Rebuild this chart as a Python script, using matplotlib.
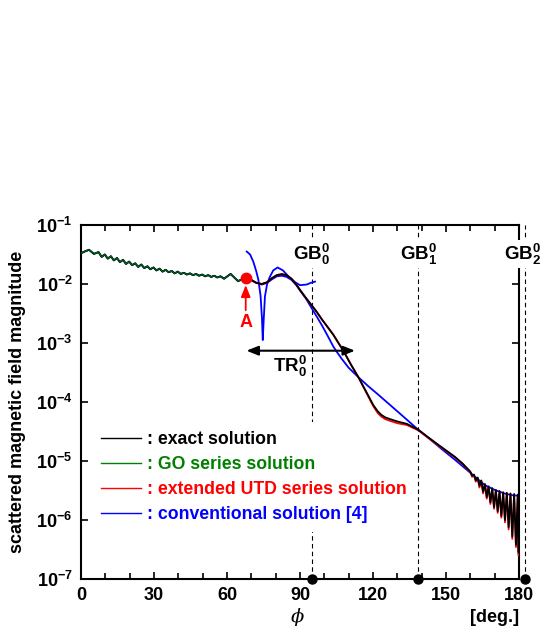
import matplotlib
matplotlib.use('Agg')
import matplotlib.pyplot as plt
import numpy as np
from matplotlib.ticker import FixedLocator, FuncFormatter, NullLocator
from matplotlib.lines import Line2D

plt.rcParams['font.family'] = ['Liberation Sans', 'DejaVu Sans']
plt.rcParams['font.weight'] = 'bold'
plt.rcParams['mathtext.fontset'] = 'custom'
plt.rcParams['mathtext.rm'] = 'Liberation Sans:bold'
plt.rcParams['mathtext.bf'] = 'Liberation Sans:bold'
plt.rcParams['mathtext.it'] = 'Liberation Sans:bold:italic'

# lit region (0 - point A), shared by exact / GO / conventional, log10 of magnitude
phi_front = [0.0, 1.5, 3.3, 5.3, 7.2, 8.5, 9.8, 11.0, 12.3, 13.5, 14.8, 16.0, 17.3, 18.5, 19.8,
             21.0, 22.3, 23.5, 24.8, 26.0, 27.3, 28.5, 29.8, 31.0, 32.3, 33.5, 34.8, 36.0, 37.3,
             38.5, 39.8, 41.0, 42.3, 43.5, 44.8, 46.0, 47.3, 48.5, 49.8, 51.0, 52.3, 53.5, 54.8,
             56.0, 57.3, 58.8, 61.5, 64.5, 66.5, 67.7]
log_front = [-1.48, -1.45, -1.42, -1.49, -1.46, -1.54, -1.50, -1.57, -1.53, -1.60, -1.56, -1.63,
             -1.59, -1.66, -1.62, -1.68, -1.65, -1.71, -1.67, -1.73, -1.70, -1.75, -1.72, -1.77,
             -1.74, -1.79, -1.76, -1.80, -1.78, -1.82, -1.79, -1.83, -1.81, -1.84, -1.82, -1.85,
             -1.83, -1.86, -1.84, -1.87, -1.85, -1.88, -1.86, -1.89, -1.87, -1.91, -1.83, -1.95,
             -1.92, -1.89]

# exact solution beyond A
phi_back = [70.0, 72.0, 74.3, 76.5, 78.5, 80.5, 82.5, 84.5, 86.5, 88.5, 90.0, 92.5, 94.8, 97.0,
            99.0, 101.0, 103.7, 105.5, 107.8, 111.0, 114.0, 117.0, 120.1, 122.0, 123.5, 125.0,
            127.0, 130.0, 133.9, 138.6, 143.4, 148.0, 153.7, 157.0,
            160.0, 160.75, 161.5, 162.25, 163.0, 163.75, 164.5, 165.25, 166.0, 166.75, 167.5,
            168.25, 169.0, 169.75, 170.5, 171.25, 172.0, 172.75, 173.5, 174.25, 175.0, 175.75,
            176.5, 177.25, 178.0, 178.75, 179.5, 179.85, 180.0]
log_exact = [-1.93, -1.98, -2.00, -1.97, -1.90, -1.85, -1.835, -1.85, -1.91, -2.01, -2.10, -2.24,
             -2.36, -2.48, -2.60, -2.71, -2.86, -2.98, -3.13, -3.37, -3.58, -3.81, -4.05, -4.16,
             -4.22, -4.26, -4.29, -4.33, -4.37, -4.47, -4.62, -4.76, -4.93, -5.05,
             -5.18, -5.25, -5.23, -5.33, -5.28, -5.42, -5.33, -5.52, -5.39, -5.61, -5.43,
             -5.70, -5.46, -5.78, -5.49, -5.85, -5.51, -5.93, -5.53, -6.00, -5.54, -6.12,
             -5.55, -6.28, -5.56, -6.42, -5.57, -6.55, -5.58]
log_utd = [-1.93, -1.98, -2.00, -1.97, -1.90, -1.85, -1.83, -1.85, -1.91, -2.01, -2.10, -2.24,
           -2.36, -2.48, -2.60, -2.71, -2.86, -2.98, -3.13, -3.37, -3.58, -3.82, -4.07, -4.19,
           -4.25, -4.29, -4.32, -4.36, -4.39, -4.48, -4.63, -4.77, -4.94, -5.06,
           -5.19, -5.27, -5.24, -5.35, -5.29, -5.45, -5.34, -5.55, -5.40, -5.64, -5.44,
           -5.73, -5.47, -5.81, -5.50, -5.88, -5.52, -5.96, -5.54, -6.04, -5.55, -6.16,
           -5.56, -6.32, -5.57, -6.46, -5.58, -6.60, -5.59]

# conventional solution [4]
phi_conv = [70.0, 72.0, 74.3, 76.5, 78.5, 80.5, 82.5, 84.5, 86.5, 88.5, 90.0, 92.5, 94.8, 97.0,
            99.0, 101.0, 103.7, 104.8, 107.0, 110.0, 114.0, 118.0, 122.0, 127.0, 132.0, 138.6,
            143.4, 148.0, 153.7, 158.0, 162.0, 166.0, 170.0, 174.0, 177.0, 180.0]
log_conv = [-1.94, -1.98, -2.01, -1.98, -1.92, -1.87, -1.86, -1.88, -1.93, -2.02, -2.11, -2.25,
            -2.41, -2.56, -2.70, -2.85, -3.06, -3.13, -3.26, -3.42, -3.58, -3.73, -3.87, -4.05,
            -4.23, -4.47, -4.63, -4.79, -4.98, -5.13, -5.27, -5.41, -5.49, -5.55, -5.58, -5.59]
# conventional solution, branch near A
phi_conv2 = [68.1, 69.5, 70.8, 72.0, 72.9, 73.8, 74.4, 74.7, 75.1, 75.6, 76.5, 77.6, 79.0, 80.8,
             83.0, 85.9, 88.0, 90.0, 92.7, 94.5, 96.2]
log_conv2 = [-1.45, -1.50, -1.62, -1.78, -1.93, -2.20, -2.60, -2.95, -2.60, -2.21, -2.00, -1.88,
             -1.77, -1.72, -1.77, -1.90, -1.97, -2.02, -2.01, -1.98, -1.96]

gb_pos = [94.8, 138.6, 182.5]
gb_text_x = [94.8, 138.6, 181.6]
gb_labels = [r'$\mathbf{GB}_{\mathbf{0}}^{\mathbf{0}}$', r'$\mathbf{GB}_{\mathbf{1}}^{\mathbf{0}}$',
             r'$\mathbf{GB}_{\mathbf{2}}^{\mathbf{0}}$']
point_A = (67.7, 0.0128)
tr_range = (68.0, 112.6)
tr_level = 7.4e-4

fig = plt.figure(figsize=(5.41, 6.32), dpi=100)
ax = fig.add_axes([0.1497, 0.0839, 0.8096, 0.5601])
ax.set_yscale('log')

lw = 1.3
ax.plot(phi_front + phi_conv, 10 ** np.array(log_front + log_conv), color='#0000ff', lw=lw, zorder=2)
ax.plot(phi_conv2, 10 ** np.array(log_conv2), color='#0000ff', lw=lw, zorder=2)
ax.plot([point_A[0]] + phi_back, 10 ** np.array([log_front[-1]] + log_utd), color='#ff0000', lw=lw, zorder=3)
ax.plot(phi_front + phi_back, 10 ** np.array(log_front + log_exact), color='black', lw=lw, zorder=4)
ax.plot(phi_front, 10 ** np.array(log_front), color='#006400', lw=0.9, zorder=5)

# grazing boundaries
for x, tx, lab in zip(gb_pos, gb_text_x, gb_labels):
    ax.axvline(x, color='black', lw=0.8, ls=(0, (4, 3)), clip_on=False, zorder=1)
    ax.plot([x], [1e-7], 'o', color='black', ms=6.5, clip_on=False, zorder=6)
    ax.text(tx, 0.918, lab, transform=ax.get_xaxis_transform(), ha='center', va='center',
            fontsize=13.5, clip_on=False, zorder=7,
            bbox=dict(facecolor='white', edgecolor='none', pad=1.0))

# point A
ax.plot([point_A[0]], [point_A[1]], 'o', color='#ff0000', ms=7.5, zorder=6)
ax.annotate('', xy=(point_A[0], 9.6e-3), xytext=(point_A[0], 3.6e-3),
            arrowprops=dict(arrowstyle='-|>,head_length=0.5,head_width=0.2', color='#ff0000',
                            lw=1.3, mutation_scale=14, shrinkA=0, shrinkB=0))
ax.text(point_A[0], 2.25e-3, 'A', color='#ff0000', fontsize=13, ha='center', va='center')

# transition region
ax.annotate('', xy=(tr_range[1], tr_level), xytext=(tr_range[0], tr_level),
            arrowprops=dict(arrowstyle='<|-|>,head_length=0.5,head_width=0.2', color='black',
                            lw=1.5, mutation_scale=14, shrinkA=0, shrinkB=0), zorder=6)
ax.text(86.0, 10 ** -3.39, r'$\mathbf{TR}_{\mathbf{0}}^{\mathbf{0}}$', fontsize=13.5,
        ha='center', va='center')

ax.set_xlim(0, 180)
ax.set_ylim(1e-7, 1e-1)
ax.xaxis.set_major_locator(FixedLocator([0, 30, 60, 90, 120, 150, 180]))
ax.xaxis.set_minor_locator(FixedLocator(list(range(0, 181, 10))))
ax.yaxis.set_major_locator(FixedLocator([1e-7, 1e-6, 1e-5, 1e-4, 1e-3, 1e-2, 1e-1]))
ax.yaxis.set_minor_locator(NullLocator())
ax.yaxis.set_major_formatter(FuncFormatter(lambda v, p: r'$\mathbf{10^{%d}}$' % int(round(np.log10(v)))))
ax.tick_params(which='both', direction='in', top=True, right=True, width=1.2, labelsize=13)
ax.tick_params(which='major', length=5, pad=6)
ax.tick_params(which='minor', length=4)
for s in ax.spines.values():
    s.set_linewidth(1.5)

ax.set_ylabel('scattered magnetic field magnitude', fontsize=13, fontweight='bold')
ax.yaxis.set_label_coords(-0.125, 0.5)
ax.text(0.495, -0.107, '\u03d5', transform=ax.transAxes, ha='center', va='center',
        fontsize=14, family='DejaVu Serif', style='italic', weight='normal')
ax.text(1.0, -0.11, '[deg.]', transform=ax.transAxes, ha='right', va='center', fontsize=13)

handles = [Line2D([], [], color='black', lw=1.0), Line2D([], [], color='#008000', lw=1.0),
           Line2D([], [], color='#ff0000', lw=1.0), Line2D([], [], color='#0000ff', lw=1.0)]
labels = [': exact solution', ': GO series solution', ': extended UTD series solution',
          ': conventional solution [4]']
leg = ax.legend(handles, labels, loc='upper left', bbox_to_anchor=(0.025, 0.443), fontsize=12.7,
                labelcolor=['black', '#008000', '#ff0000', '#0000ff'], handlelength=2.3,
                handletextpad=0.3, labelspacing=0.45, borderaxespad=0, borderpad=0.5,
                frameon=True, fancybox=False)
leg.get_frame().set_facecolor('white')
leg.get_frame().set_edgecolor('none')
leg.get_frame().set_alpha(1)
leg.set_zorder(1.5)

fig.savefig('out.png', dpi=100)
